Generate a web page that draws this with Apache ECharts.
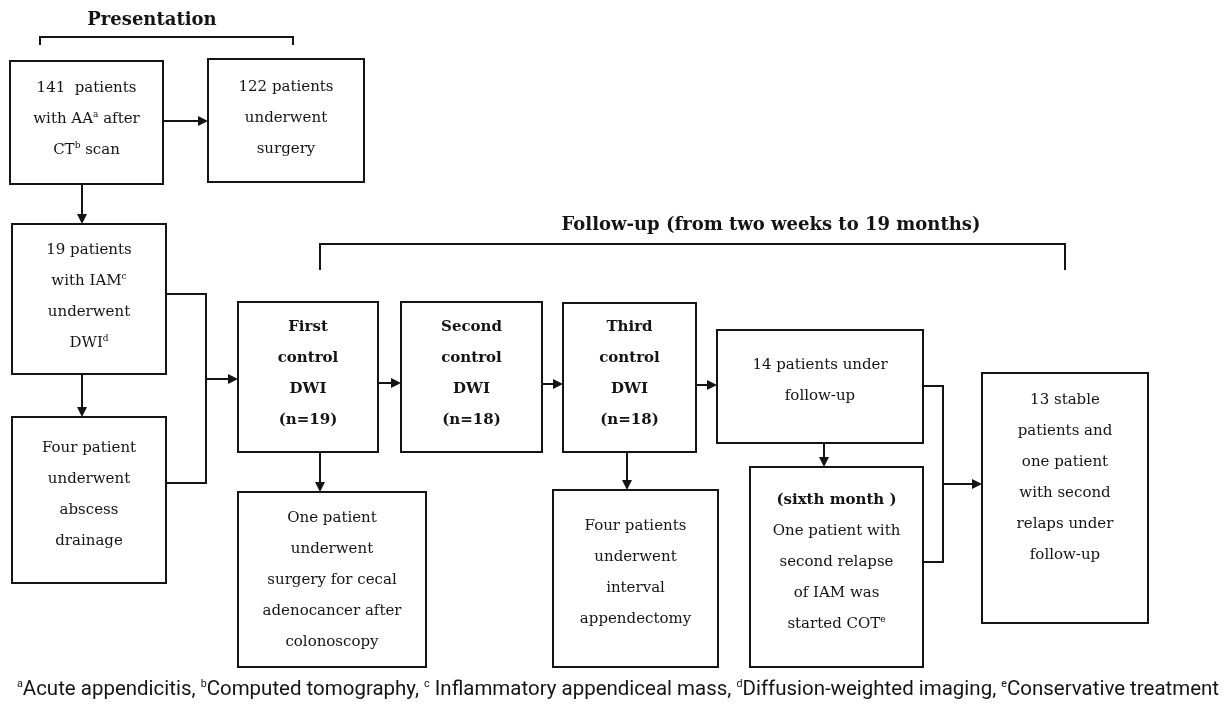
<!DOCTYPE html>
<html>
<head>
<meta charset="utf-8">
<title>Flow chart</title>
<script src="https://cdn.jsdelivr.net/npm/echarts@6/dist/echarts.min.js"></script>
<style>
    html, body { margin: 0; padding: 0; background: #fff; }
    #main { width: 1226px; height: 714px; }
</style>
</head>
<body>
<div id="main"></div>
<script>
// box texts, {s|x} marks a superscript letter
var boxTexts = [
    ['141  patients', 'with AA{s|a} after', 'CT{s|b} scan'],
    ['122 patients', 'underwent', 'surgery'],
    ['19 patients', 'with IAM{s|c}', 'underwent', 'DWI{s|d}'],
    ['Four patient', 'underwent', 'abscess', 'drainage'],
    ['{b|First}', '{b|control}', '{b|DWI}', '{b|(n=19)}'],
    ['{b|Second}', '{b|control}', '{b|DWI}', '{b|(n=18)}'],
    ['{b|Third}', '{b|control}', '{b|DWI}', '{b|(n=18)}'],
    ['14 patients under', 'follow-up'],
    ['One patient', 'underwent', 'surgery for cecal', 'adenocancer after', 'colonoscopy'],
    ['Four patients', 'underwent', 'interval', 'appendectomy'],
    ['{b|(sixth month )}', 'One patient with', 'second relapse', 'of IAM was', 'started COT{s|e}'],
    ['13 stable', 'patients and', 'one patient', 'with second', 'relaps under', 'follow-up']
];

var headings = ['Presentation', 'Follow-up (from two weeks to 19 months)'];

var footnote = '{s|a}Acute appendicitis, {s|b}Computed tomography, {s|c} Inflammatory appendiceal mass, ' +
    '{s|d}Diffusion-weighted imaging, {s|e}Conservative treatment';

// layout in diagram units (1 unit = 1px): [x1, y1, x2, y2, text centre y]
var boxLayout = [
    [10, 61, 163, 184, 119],
    [208, 59, 364, 182, 118],
    [12, 224, 166, 374, 297],
    [12, 417, 166, 583, 495],
    [238, 302, 378, 452, 374],
    [401, 302, 542, 452, 374],
    [563, 303, 696, 452, 374],
    [717, 330, 923, 443, 381],
    [238, 492, 426, 667, 580],
    [553, 490, 718, 667, 573],
    [750, 467, 923, 667, 562],
    [982, 373, 1148, 623, 478]
];

// connectors: [arrow?, points...]
var connectors = [
    [true, [163, 121], [208, 121]],
    [true, [82, 184], [82, 224]],
    [true, [82, 374], [82, 417]],
    [false, [166, 294], [206, 294], [206, 483], [166, 483]],
    [true, [206, 379], [238, 379]],
    [true, [378, 383], [401, 383]],
    [true, [542, 384], [563, 384]],
    [true, [696, 385], [717, 385]],
    [true, [320, 452], [320, 492]],
    [true, [627, 452], [627, 490]],
    [true, [824, 443], [824, 467]],
    [false, [923, 386], [943, 386], [943, 562], [923, 562]],
    [true, [943, 484], [982, 484]],
    [false, [40, 45], [40, 37], [293, 37], [293, 45]],
    [false, [320, 270], [320, 244], [1065, 244], [1065, 270]]
];

var headingLayout = [[152, 20], [771, 225]];
var footnoteLayout = [618, 690];

var ink = '#141414';
var serif = '"DejaVu Serif", "Liberation Serif", serif';

var chart = echarts.init(document.getElementById('main'));

function renderBox(params, api) {
    var r = boxLayout[params.dataIndex];
    var p1 = api.coord([r[0], r[1]]);
    var p2 = api.coord([r[2], r[3]]);
    var ty = api.coord([0, r[4]])[1];
    return {
        type: 'group',
        children: [{
            type: 'rect',
            shape: { x: p1[0], y: p1[1], width: p2[0] - p1[0], height: p2[1] - p1[1] },
            style: { fill: '#fff', stroke: ink, lineWidth: 2 }
        }, {
            type: 'text',
            x: (p1[0] + p2[0]) / 2,
            y: ty,
            style: {
                text: boxTexts[params.dataIndex].join('\n'),
                fill: ink,
                fontFamily: serif,
                fontSize: 15,
                lineHeight: 31,
                align: 'center',
                verticalAlign: 'middle',
                rich: {
                    s: { fontFamily: serif, fontSize: 9, verticalAlign: 'middle', padding: [0, 0, 9, 0], fill: ink },
                    b: { fontFamily: serif, fontSize: 15, fontWeight: 'bold', lineHeight: 31, fill: ink }
                }
            }
        }]
    };
}

function renderConnector(params, api) {
    var c = connectors[params.dataIndex];
    var pts = [];
    for (var i = 1; i < c.length; i++) {
        pts.push(api.coord(c[i]));
    }
    var children = [];
    if (c[0]) {
        var a = pts[pts.length - 2], b = pts[pts.length - 1];
        var dx = b[0] - a[0], dy = b[1] - a[1];
        var len = Math.sqrt(dx * dx + dy * dy);
        var ux = dx / len, uy = dy / len;
        var base = [b[0] - ux * 10, b[1] - uy * 10];
        pts[pts.length - 1] = base;
        children.push({
            type: 'polygon',
            shape: { points: [b, [base[0] - uy * 5, base[1] + ux * 5], [base[0] + uy * 5, base[1] - ux * 5]] },
            style: { fill: ink }
        });
    }
    children.unshift({
        type: 'polyline',
        shape: { points: pts },
        style: { stroke: ink, lineWidth: 2, fill: null }
    });
    return { type: 'group', children: children };
}

function renderHeading(params, api) {
    var p = api.coord(headingLayout[params.dataIndex]);
    return {
        type: 'text', x: p[0], y: p[1],
        style: {
            text: headings[params.dataIndex], fill: ink, fontFamily: serif,
            fontSize: 18, fontWeight: 'bold', align: 'center', verticalAlign: 'middle'
        }
    };
}

function renderFootnote(params, api) {
    var p = api.coord(footnoteLayout);
    var narrow = '"Liberation Sans Narrow", "Roboto", sans-serif';
    return {
        type: 'text', x: p[0], y: p[1], scaleX: 0.975,
        style: {
            text: footnote, fill: ink, fontFamily: narrow, fontSize: 21,
            align: 'center', verticalAlign: 'middle',
            rich: { s: { fontFamily: narrow, fontSize: 11, verticalAlign: 'middle', padding: [0, 0, 12, 0], fill: ink } }
        }
    };
}

function idx(arr) {
    return arr.map(function (_, i) { return [i]; });
}

chart.setOption({
    backgroundColor: '#fff',
    animation: false,
    grid: { left: 0, right: 0, top: 0, bottom: 0 },
    xAxis: { type: 'value', min: 0, max: 1226, show: false },
    yAxis: { type: 'value', min: 0, max: 714, inverse: true, show: false },
    series: [
        { type: 'custom', renderItem: renderConnector, data: idx(connectors), silent: true },
        { type: 'custom', renderItem: renderBox, data: idx(boxTexts), silent: true },
        { type: 'custom', renderItem: renderHeading, data: idx(headings), silent: true },
        { type: 'custom', renderItem: renderFootnote, data: [[0]], silent: true }
    ]
});
</script>
</body>
</html>
